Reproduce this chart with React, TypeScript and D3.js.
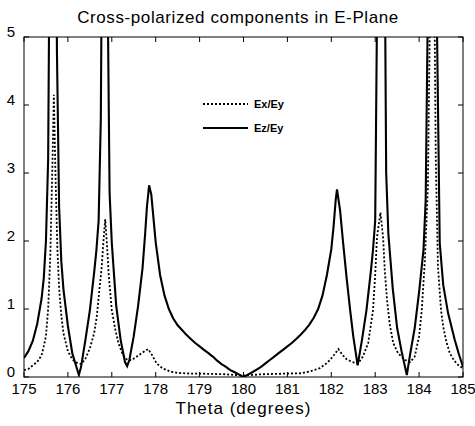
import React from 'react';
import * as d3 from 'd3';

const title = 'Cross-polarized components in E-Plane';
const xLabel = 'Theta (degrees)';
const xTicks = [175, 176, 177, 178, 179, 180, 181, 182, 183, 184, 185];
const yTicks = [0, 1, 2, 3, 4, 5];
const legendLabels = ['Ex/Ey', 'Ez/Ey'];

// Ez/Ey (solid)
const ezTheta = [
  175.0, 175.1, 175.2, 175.3, 175.4, 175.45, 175.5, 175.55, 175.6, 175.65, 175.7, 175.75, 175.8, 175.85, 175.9,
  176.0, 176.1, 176.25, 176.3, 176.4, 176.5, 176.6, 176.65, 176.7, 176.75, 176.8, 176.85, 176.9, 176.95,
  177.0, 177.1, 177.2, 177.3, 177.35, 177.4, 177.5, 177.6, 177.7, 177.76, 177.8, 177.85, 177.9,
  178.0, 178.1, 178.2, 178.3, 178.4, 178.5, 178.6, 178.7, 178.8, 178.9,
  179.0, 179.1, 179.2, 179.3, 179.4, 179.5, 179.6, 179.7, 179.8, 179.9,
  180.0, 180.1, 180.2, 180.3, 180.4, 180.5, 180.6, 180.7, 180.8, 180.9,
  181.0, 181.1, 181.2, 181.3, 181.4, 181.5, 181.6, 181.7, 181.8, 181.9,
  182.0, 182.05, 182.1, 182.13, 182.2, 182.27, 182.35, 182.43, 182.5, 182.6, 182.7, 182.8, 182.9, 182.95,
  183.0, 183.05, 183.1, 183.15, 183.2, 183.25, 183.3, 183.4, 183.5, 183.6, 183.72, 183.8, 183.9,
  184.0, 184.1, 184.15, 184.2, 184.25, 184.3, 184.35, 184.4, 184.47, 184.55, 184.66, 184.81, 184.9, 185.0,
];
const ezValues = [
  0.28, 0.38, 0.53, 0.78, 1.15, 1.45, 2.0, 3.2, 8, 30, 12, 4.8, 2.5, 1.7, 1.28,
  0.75, 0.35, 0.03, 0.15, 0.55, 0.98, 1.55, 1.87, 2.3, 3.8, 9, 30, 6, 2.7,
  1.97, 1.05, 0.55, 0.22, 0.16, 0.25, 0.6, 1.05, 1.6, 2.11, 2.5, 2.82, 2.68,
  1.98, 1.5, 1.2, 1.0, 0.86, 0.76, 0.69, 0.62, 0.56, 0.5,
  0.45, 0.4, 0.35, 0.3, 0.24, 0.19, 0.15, 0.1, 0.07, 0.035,
  0.0, 0.035, 0.07, 0.11, 0.15, 0.2, 0.25, 0.3, 0.35, 0.4,
  0.45, 0.5, 0.56, 0.62, 0.69, 0.77, 0.87, 1.0, 1.2, 1.5,
  1.88, 2.2, 2.6, 2.76, 2.45, 1.97, 1.45, 0.98, 0.6, 0.17, 0.55, 0.98, 1.55, 1.87,
  2.3, 6, 40, 30, 8, 3.0, 2.1, 1.3, 0.72, 0.38, 0.03, 0.35, 0.72,
  1.25, 1.87, 2.6, 5.5, 20, 40, 15, 5.5, 1.97, 1.35, 0.94, 0.55, 0.35, 0.15,
];

// Ex/Ey (dotted)
const exTheta = [
  175.0, 175.1, 175.2, 175.3, 175.4, 175.45, 175.5, 175.55, 175.6, 175.65, 175.68, 175.72, 175.76, 175.8, 175.85, 175.9,
  176.0, 176.1, 176.2, 176.3, 176.4, 176.5, 176.6, 176.66, 176.72, 176.77, 176.81, 176.85, 176.89, 176.93,
  177.0, 177.08, 177.15, 177.25, 177.35, 177.45, 177.57, 177.7, 177.83, 177.92,
  178.02, 178.15, 178.33, 178.5, 178.8, 179.0, 179.3, 179.6, 179.8, 180.0,
  180.2, 180.4, 180.7, 181.0, 181.3, 181.5, 181.74, 181.87, 181.97, 182.07, 182.16, 182.25, 182.35, 182.48,
  182.61, 182.72, 182.84, 182.95, 183.0, 183.04, 183.12, 183.18, 183.22, 183.27, 183.33, 183.41, 183.52, 183.68, 183.8, 183.9,
  184.0, 184.06, 184.13, 184.2, 184.25, 184.28, 184.33, 184.38, 184.43, 184.5, 184.55, 184.62, 184.7, 184.8, 184.9, 185.0,
];
const exValues = [
  0.1, 0.12, 0.17, 0.22, 0.32, 0.45, 0.6, 1.0, 1.8, 3.2, 4.15, 2.9, 1.9, 1.3, 0.9, 0.64,
  0.38, 0.26, 0.21, 0.19, 0.27, 0.42, 0.65, 0.9, 1.3, 1.62, 2.0, 2.32, 1.95, 1.5,
  0.98, 0.7, 0.5, 0.33, 0.25, 0.25, 0.3, 0.36, 0.41, 0.32,
  0.2, 0.13, 0.08, 0.06, 0.05, 0.05, 0.045, 0.04, 0.03, 0.02,
  0.03, 0.04, 0.045, 0.05, 0.055, 0.08, 0.13, 0.19, 0.25, 0.33, 0.41, 0.33, 0.26, 0.22,
  0.2, 0.3, 0.5, 0.98, 1.5, 2.05, 2.42, 2.05, 1.55, 1.13, 0.78, 0.5, 0.35, 0.25, 0.22, 0.3,
  0.6, 0.98, 1.7, 2.8, 5.5, 9, 7, 3.2, 1.62, 0.98, 0.74, 0.52, 0.35, 0.24, 0.17, 0.13,
];

export default function App() {
  const W = 475;
  const H = 426;
  const left = 24, right = 463, top = 37, bottom = 377;
  const x = d3.scaleLinear().domain([175, 185]).range([left, right]);
  const y = d3.scaleLinear().domain([0, 5]).range([bottom, top]);
  const mk = (th: number[], v: number[]) =>
    d3.line<number>().x((d) => x(d)).y((_, i) => y(v[i]))(th) || '';
  const ezPath = mk(ezTheta, ezValues);
  const exPath = mk(exTheta, exValues);
  const font = 'Arial, "Liberation Sans", Helvetica, sans-serif';
  const tl = 5;

  return (
    <svg width={W} height={H} style={{ position: 'absolute', left: 0, top: 0, background: '#fff' }}>
      <rect x={0} y={0} width={W} height={H} fill="#fff" />
      <defs>
        <clipPath id="plot">
          <rect x={left} y={top} width={right - left} height={bottom - top} />
        </clipPath>
      </defs>
      <g clipPath="url(#plot)">
        <path d={exPath} fill="none" stroke="#000" strokeWidth={1.8} strokeDasharray="2,2" />
        <path d={ezPath} fill="none" stroke="#000" strokeWidth={2.1} />
      </g>
      <rect x={left} y={top} width={right - left} height={bottom - top} fill="none" stroke="#000" strokeWidth={1} />
      {xTicks.map((t) => (
        <g key={'x' + t}>
          <line x1={x(t)} x2={x(t)} y1={bottom} y2={bottom - tl} stroke="#000" />
          <line x1={x(t)} x2={x(t)} y1={top} y2={top + tl} stroke="#000" />
          <text x={x(t)} y={394} textAnchor="middle" fontFamily={font} fontSize={15}>{t}</text>
        </g>
      ))}
      {yTicks.map((t) => (
        <g key={'y' + t}>
          <line x1={left} x2={left + tl} y1={y(t)} y2={y(t)} stroke="#000" />
          <line x1={right} x2={right - tl} y1={y(t)} y2={y(t)} stroke="#000" />
          <text x={15} y={y(t)} textAnchor="end" fontFamily={font} fontSize={15}>{t}</text>
        </g>
      ))}
      <text x={238} y={23} textAnchor="middle" fontFamily={font} fontSize={17} letterSpacing={0.6}>{title}</text>
      <text x={243.5} y={414} textAnchor="middle" fontFamily={font} fontSize={17} letterSpacing={1}>{xLabel}</text>
      {legendLabels.map((lab, i) => (
        <g key={lab}>
          <line x1={203} x2={248} y1={104 + i * 24} y2={104 + i * 24} stroke="#000"
            strokeWidth={i === 0 ? 1.8 : 2.1} strokeDasharray={i === 0 ? '2,2' : undefined} />
          <text x={254} y={108 + i * 24} fontFamily={font} fontSize={11} fontWeight="bold">{lab}</text>
        </g>
      ))}
    </svg>
  );
}
